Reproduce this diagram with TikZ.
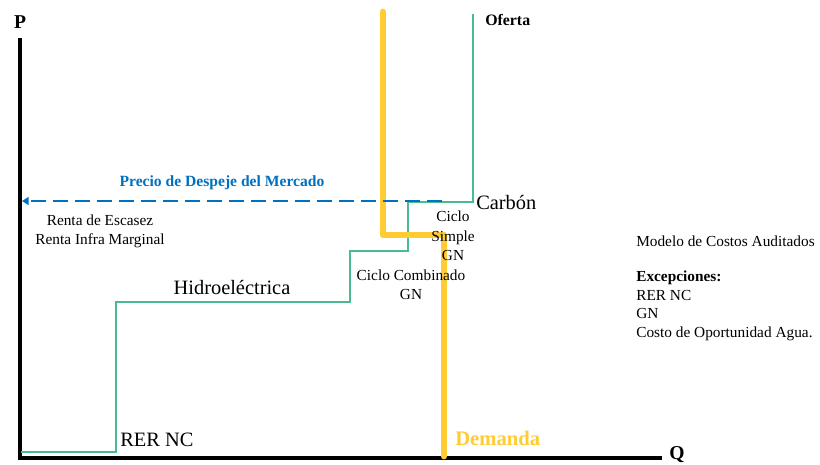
\documentclass[tikz,border=0pt]{standalone}
\usepackage{fontspec}
\setmainfont{Liberation Serif}
\usetikzlibrary{arrows.meta}
\definecolor{supplygreen}{RGB}{72,188,142}
\definecolor{demandyellow}{RGB}{255,204,51}
\definecolor{priceblue}{RGB}{0,112,192}
\begin{document}
\begin{tikzpicture}[x=0.75pt,y=-0.75pt,
  axisline/.style={line width=3.2pt,black},
  supply/.style={line width=1.2pt,supplygreen},
  demand/.style={line width=5.2pt,demandyellow,line join=round,line cap=round},
  price/.style={line width=1.9pt,priceblue,dash pattern=on 11pt off 5.5pt,-{Triangle[length=5pt,width=6pt]}},
  small/.style={font=\fontsize{11.5}{14.2}\selectfont,inner sep=0pt},
  big/.style={font=\fontsize{15.3}{18}\selectfont,inner sep=0pt}]
\useasboundingbox (0,0) rectangle (820,464);

% axes
\coordinate (ytop) at (20,38);
\coordinate (xend) at (662,458);
\draw[axisline] (ytop) -- (20,460);
\draw[axisline] (18,458) -- (xend);
\node[font=\fontsize{14.7}{17}\selectfont\bfseries,inner sep=0pt] (plabel) at (20,22) {P};
\node[font=\fontsize{14.7}{17}\selectfont\bfseries,inner sep=0pt] (qlabel) at (677,455) {Q};

% supply curve (stepped)
\coordinate (s0) at (21,452);
\coordinate (s1) at (116,452);
\coordinate (s2) at (116,302);
\coordinate (s3) at (350,302);
\coordinate (s4) at (350,251);
\coordinate (s5) at (408,251);
\coordinate (s6) at (408,202);
\coordinate (s7) at (473,202);
\coordinate (s8) at (473,14);
\draw[supply] (s0) -- (s1) -- (s2) -- (s3) -- (s4) -- (s5) -- (s6) -- (s7) -- (s8);

% demand curve
\coordinate (d0) at (383,12);
\coordinate (d1) at (383,235);
\coordinate (d2) at (444,235);
\coordinate (d3) at (444,456);
\draw[demand] (d0) -- (d1) -- (d2) -- (d3);

% market clearing price
\coordinate (pstart) at (442,201);
\coordinate (pend) at (22,201);
\draw[price] (pstart) -- (pend);
\node[font=\fontsize{11.7}{14}\selectfont\bfseries,text=priceblue,inner sep=0pt] (plab) at (222,183) {Precio de Despeje del Mercado};

% labels
\node[small,align=center] (renta) at (100,231.5) {Renta de Escasez\\Renta Infra Marginal};
\node[big] (hidro) at (232,288) {Hidroeléctrica};
\node[big,anchor=west] (rer) at (120,440) {RER NC};
\node[font=\fontsize{15.5}{18}\selectfont\bfseries,text=demandyellow,anchor=west,inner sep=0pt] (dem) at (455,438) {Demanda};
\node[big,anchor=west] (carbon) at (476,203) {Carbón};
\node[small,align=center,font=\fontsize{11.5}{14.6}\selectfont] (simple) at (453,236) {Ciclo\\Simple\\GN};
\node[small,align=center,font=\fontsize{11.5}{14.2}\selectfont] (comb) at (411,284.5) {Ciclo Combinado\\GN};
\node[font=\fontsize{11.9}{14}\selectfont\bfseries,anchor=west,inner sep=0pt] (oferta) at (485,20) {Oferta};

% right-hand notes
\node[small,anchor=west] (modelo) at (636,241) {Modelo de Costos Auditados};
\node[small,anchor=west,align=left,font=\fontsize{11.5}{13.9}\selectfont] (exc) at (636,306) {\textbf{Excepciones:}\\RER NC\\GN\\Costo de Oportunidad Agua.};
\end{tikzpicture}
\end{document}
